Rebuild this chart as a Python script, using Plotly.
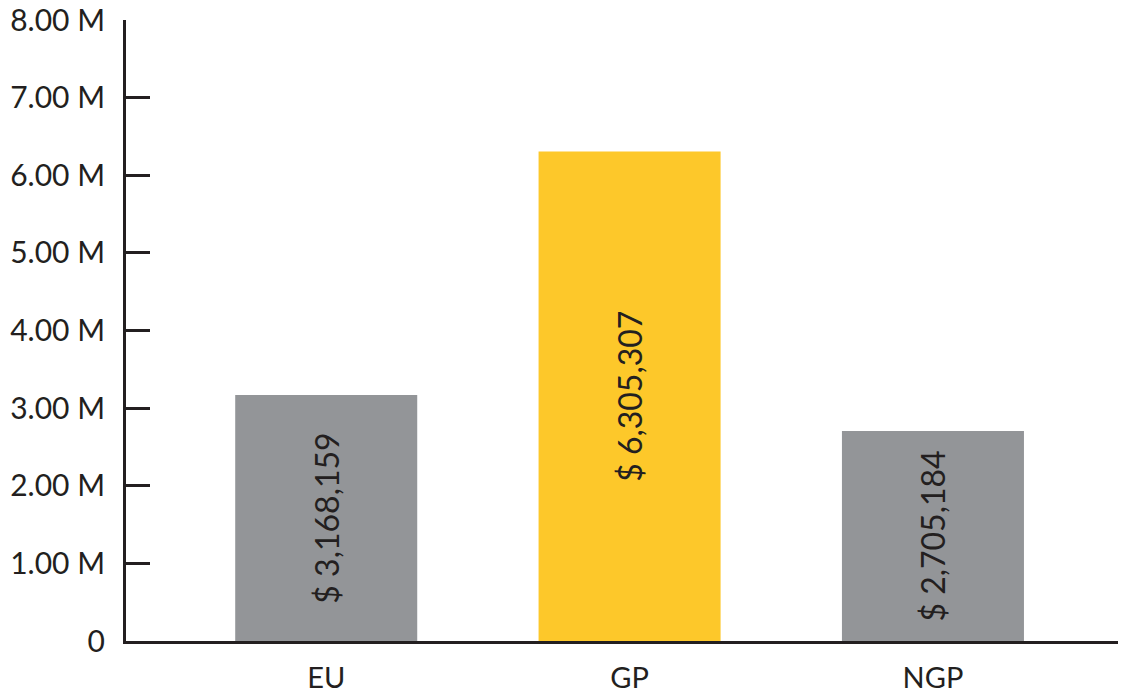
import plotly.graph_objects as go

categories = ["EU", "GP", "NGP"]
values = [3168159, 6305307, 2705184]
bar_colors = ["#939598", "#FDC82A", "#939598"]
labels = ["$ 3,168,159", "$ 6,305,307", "$ 2,705,184"]
y_tickvals = [0, 1e6, 2e6, 3e6, 4e6, 5e6, 6e6, 7e6, 8e6]
y_ticktext = ["0", "1.00 M", "2.00 M", "3.00 M", "4.00 M", "5.00 M", "6.00 M", "7.00 M", "8.00 M"]

FONT = "Lato"
INK = "#231F20"

fig = go.Figure()
fig.add_trace(go.Bar(
    x=categories, y=values,
    marker=dict(color=bar_colors, line=dict(width=0)),
    width=0.6,
    text=labels, textposition="inside", insidetextanchor="middle",
    textangle=-90,
    textfont=dict(family=FONT, size=32, color=INK),
    cliponaxis=False,
    hoverinfo="skip",
))

fig.update_layout(
    width=1126, height=693,
    margin=dict(l=126, r=8, t=20, b=52),
    paper_bgcolor="white", plot_bgcolor="white",
    showlegend=False,
    font=dict(family=FONT, color=INK),
    uniformtext=dict(minsize=10, mode="show"),
)
fig.update_xaxes(
    range=[-0.66, 2.61],
    showline=True, linecolor=INK, linewidth=3,
    showgrid=False, zeroline=False, ticks="",
    tickfont=dict(family=FONT, size=29, color=INK),
    ticklabelstandoff=9,
    ticklabeloverflow="allow",
    automargin=False,
)
fig.update_yaxes(
    range=[0, 8e6],
    tickvals=y_tickvals, ticktext=y_ticktext,
    showline=True, linecolor=INK, linewidth=3,
    showgrid=False, zeroline=False,
    ticks="inside", ticklen=24, tickwidth=3, tickcolor=INK,
    tickfont=dict(family=FONT, size=30, color=INK),
    ticklabelstandoff=12,
    ticklabeloverflow="allow",
    automargin=False,
)

fig.write_html(
    "out.html",
    config={"displayModeBar": False},
    post_script="document.body.style.margin='0';document.body.style.overflow='hidden';",
)
